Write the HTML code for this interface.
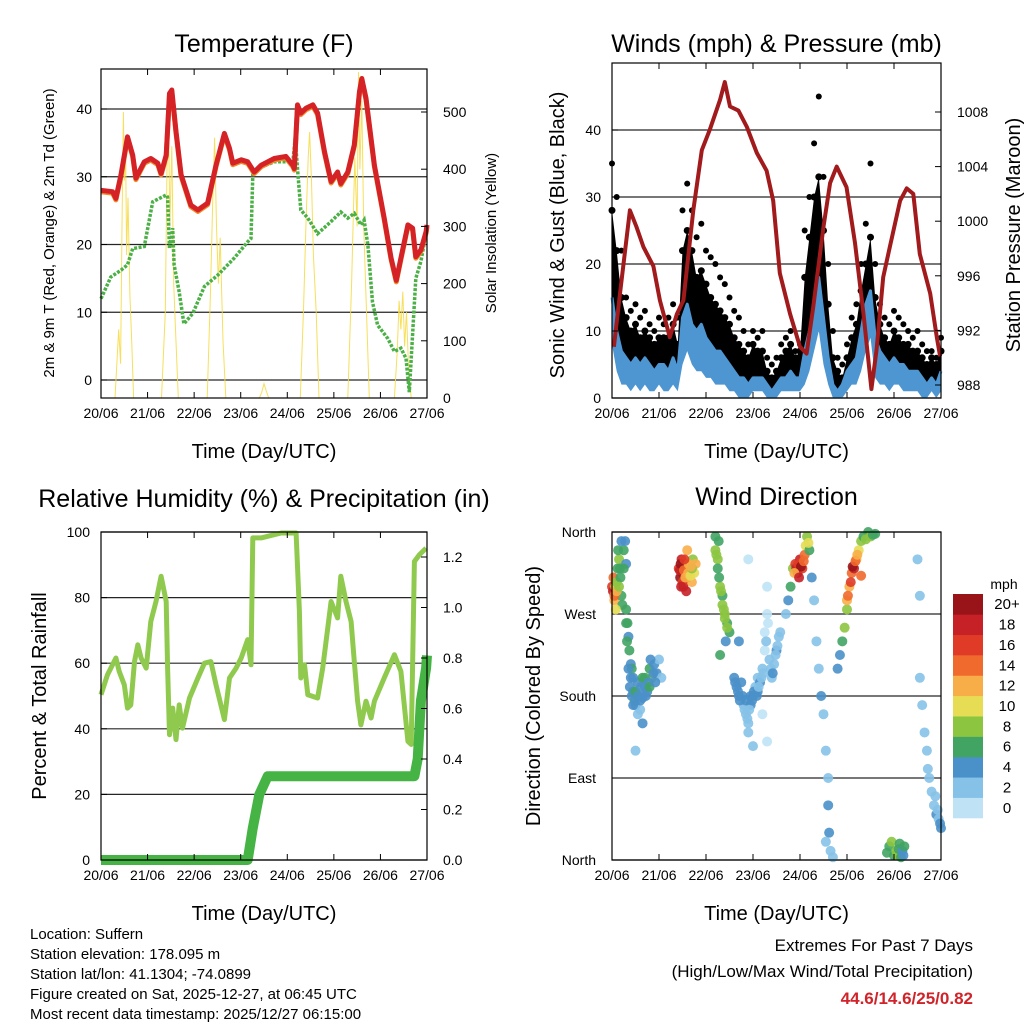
<!DOCTYPE html>
<html><head><meta charset="utf-8"><style>
html,body{margin:0;padding:0;background:#fff}
svg text{font-family:"Liberation Sans",sans-serif;fill:#000}
</style></head><body>
<svg id="c" xmlns="http://www.w3.org/2000/svg" width="1024" height="1024" viewBox="0 0 1024 1024">
<rect width="1024" height="1024" fill="#fff"/>
<g id="root"></g>
</svg>
<script>
// ---------- DATA ----------
const dayLabels=["20/06","21/06","22/06","23/06","24/06","25/06","26/06","27/06"];
const tempTicks=[0,10,20,30,40];
const solarTicks=[0,100,200,300,400,500];
const windTicks=[0,10,20,30,40];
const presTicks=[988,992,996,1000,1004,1008];
const rhTicks=[0,20,40,60,80,100];
const rainTicks=[0.0,0.2,0.4,0.6,0.8,1.0,1.2];
const dirTicks=[0,90,180,270,360];
const dirLabels=["North","East","South","West","North"];
const speedBins=["0","2","4","6","8","10","12","14","16","18","20+"];

const tDays=[0,0.25,0.32,0.43,0.57,0.68,0.75,0.93,1.07,1.22,1.29,1.40,1.47,1.52,1.61,1.72,1.93,2.08,2.29,2.47,2.65,2.76,2.83,3.01,3.15,3.29,3.44,3.72,3.97,4.12,4.15,4.22,4.29,4.40,4.55,4.65,4.80,4.94,5.08,5.15,5.30,5.44,5.55,5.60,5.69,5.87,6.08,6.23,6.34,6.44,6.59,6.69,6.76,6.87,6.98,7.0];
const tempF=[28.0,27.8,26.8,30.3,35.9,33.2,29.8,32.2,32.7,32.0,30.5,33.2,42.3,42.8,36.7,30.3,25.8,25.1,26.1,31.7,36.4,34.2,32.0,32.5,32.2,30.7,31.7,32.7,33.0,31.7,31.2,40.6,39.4,40.1,40.6,39.4,33.7,29.3,30.7,29.0,30.7,34.7,42.6,44.5,41.6,31.7,23.9,18.0,14.7,18.0,22.9,22.4,18.2,19.2,21.9,22.9];
const dDays=[0,0.21,0.43,0.57,0.68,0.93,1.11,1.40,1.43,1.47,1.54,1.57,1.68,1.78,1.97,2.22,2.51,2.86,3.15,3.22,3.26,3.36,3.72,4.12,4.17,4.22,4.29,4.44,4.65,4.94,5.15,5.30,5.44,5.58,5.65,5.73,5.83,5.94,6.16,6.30,6.44,6.55,6.62,6.76,6.87,7.0];
const dewF=[12.0,15.2,16.2,17.0,19.4,19.7,26.3,27.3,27.0,19.4,22.4,17.0,13.0,8.3,9.8,13.8,15.5,18.0,20.4,20.9,30.3,31.2,32.2,32.2,35.7,31.2,25.1,23.9,21.6,23.4,24.8,23.9,24.6,22.9,23.6,19.9,11.5,8.1,6.1,4.2,4.7,3.2,-1.8,15.0,17.5,22.4];
const sDays=[0.30,0.38,0.42,0.45,0.48,0.50,0.53,0.55,0.58,0.62,0.66,0.70,1.30,1.38,1.42,1.45,1.48,1.52,1.56,1.60,1.66,2.28,2.35,2.40,2.44,2.48,2.52,2.56,2.62,2.68,3.40,3.45,3.50,3.55,3.60,4.28,4.35,4.40,4.45,4.48,4.52,4.56,4.62,4.68,5.30,5.38,5.45,5.50,5.53,5.56,5.60,5.64,5.70,5.76,6.30,6.36,6.40,6.44,6.48,6.52,6.56,6.60,6.66];
const solar=[0,120,60,300,500,380,420,250,350,180,100,0,0,150,420,480,300,440,200,120,0,0,180,350,455,300,200,280,100,0,0,10,25,12,0,0,160,300,420,465,380,250,150,0,0,200,420,300,570,400,520,300,150,0,0,80,170,120,186,90,150,60,0];
const wDays=[0,0.1,0.2,0.3,0.4,0.5,0.6,0.7,0.8,0.9,1.0,1.1,1.2,1.3,1.4,1.5,1.6,1.7,1.8,1.9,2.0,2.1,2.2,2.3,2.4,2.5,2.6,2.7,2.8,2.9,3.0,3.1,3.2,3.3,3.4,3.5,3.6,3.7,3.8,3.9,4.0,4.1,4.2,4.3,4.4,4.5,4.6,4.7,4.8,4.9,5.0,5.1,5.2,5.3,5.4,5.5,5.6,5.7,5.8,5.9,6.0,6.1,6.2,6.3,6.4,6.5,6.6,6.7,6.8,6.9,7.0];
const windMph=[15,10,7,6,5,6,5,6,5,4,5,5,4,6,4,12,14,11,10,11,9,8,7,7,6,5,4,3,3,2,3,3,3,2,1,2,3,3,4,3,3,7,10,14,18,12,6,2,1,2,4,5,6,10,14,16,9,7,6,5,6,5,5,4,4,4,3,2,3,2,4];
const windLow=[8,4,2,2,1,2,1,2,1,1,2,1,1,2,1,5,7,5,4,4,3,3,2,2,2,1,1,0,0,0,1,1,1,0,0,0,1,1,1,1,1,2,4,7,10,5,2,0,0,0,1,2,2,4,7,9,3,2,2,1,2,2,1,1,1,1,0,0,1,0,1];
const gustTyp=[28,22,15,12,10,11,9,10,9,8,9,9,9,11,8,22,25,22,18,19,17,15,14,13,12,11,9,8,7,6,8,7,7,4,3,4,6,7,8,6,7,18,24,30,33,25,14,6,4,3,6,9,11,16,20,24,15,11,9,8,10,9,8,8,7,7,6,5,6,5,7];
const gustMph=[35,30,22,15,13,14,12,13,11,10,12,11,12,14,12,28,32,28,24,26,22,21,20,18,17,15,13,12,10,8,10,9,10,6,5,6,8,9,10,7,8,25,30,38,45,33,20,10,6,5,8,12,14,20,26,35,20,14,12,11,13,12,11,10,9,10,8,7,7,6,9];
const pDays=[0.04,0.17,0.38,0.52,0.67,0.88,1.02,1.23,1.38,1.52,1.73,1.91,2.08,2.30,2.40,2.51,2.69,2.87,3.08,3.29,3.43,3.57,3.79,4.00,4.14,4.28,4.50,4.64,4.78,4.99,5.17,5.35,5.52,5.63,5.77,5.91,6.13,6.27,6.41,6.55,6.77,6.91,6.98];
const pressMb=[990.8,994.7,1000.8,999.6,998.1,996.7,994.2,991.5,993.2,994.2,1000.8,1005.2,1006.7,1008.9,1010.2,1008.4,1008.1,1006.9,1005.0,1003.7,1001.5,996.2,993.2,990.8,990.3,993.7,999.6,1002.8,1004.0,1002.5,998.4,993.2,987.7,990.6,995.9,998.1,1001.5,1002.4,1002.0,997.6,994.7,991.5,990.1];
const hDays=[0,0.14,0.32,0.39,0.50,0.57,0.64,0.72,0.79,0.86,0.97,1.07,1.18,1.29,1.40,1.43,1.47,1.54,1.61,1.68,1.75,1.90,2.08,2.22,2.36,2.47,2.65,2.76,2.90,3.01,3.15,3.22,3.26,3.44,3.58,3.87,4.19,4.26,4.29,4.37,4.44,4.65,4.76,4.94,5.08,5.15,5.26,5.37,5.44,5.51,5.58,5.69,5.80,5.87,6.08,6.30,6.44,6.59,6.66,6.73,6.84,6.98];
const rhPct=[50.4,56.5,61.6,57.5,53.4,46.3,47.3,60.5,65.6,61.6,58.5,72.7,78.8,86.5,78.8,58.5,38.2,46.3,36.7,47.3,40.2,49.4,55.5,60.0,60.5,53.4,42.8,55.5,58.5,61.6,67.2,59.5,98.2,98.2,98.7,99.7,99.7,75.8,55.5,59.5,50.4,49.4,58.5,78.8,73.8,86.5,78.8,72.7,60.5,48.4,41.2,48.4,43.3,48.4,55.5,62.6,57.5,36.2,35.2,91.0,93.1,95.1];
const rDays=[0,3.15,3.26,3.40,3.58,6.73,6.80,6.87,6.98,7.0];
const rainIn=[0,0,0.127,0.259,0.332,0.332,0.40,0.63,0.76,0.81];
const dirDays=[0.0,0.02,0.03,0.05,0.07,0.1,0.12,0.15,0.18,0.2,0.22,0.25,0.28,0.3,0.3,0.33,0.35,0.37,0.4,0.4,0.42,0.45,0.48,0.5,0.55,0.6,0.6,0.65,0.7,0.75,0.8,0.85,0.9,0.95,1.0,1.05,0.65,0.5,
0.05,0.08,0.1,0.15,0.17,0.13,0.2,0.25,0.3,0.32,0.35,0.38,0.42,0.45,0.5,0.55,0.6,0.62,0.7,0.72,0.78,0.8,0.82,0.88,0.92,0.55,0.45,0.65,
1.42,1.45,1.48,1.5,1.52,1.55,1.6,1.65,1.7,1.72,1.75,1.78,1.6,1.58,1.44,1.46,1.5,1.53,1.56,1.62,1.63,1.67,1.7,1.47,1.54,1.68,
2.2,2.2,2.25,2.25,2.3,2.35,2.35,2.4,2.45,2.5,2.42,2.3,2.22,2.28,2.32,2.38,2.4,2.45,2.27,
2.6,2.65,2.7,2.8,2.85,2.9,2.95,3.0,3.05,3.1,3.2,3.25,3.25,3.3,3.3,3.35,3.4,3.45,3.5,3.55,2.9,3.0,3.2,3.3,2.9,2.7,3.1,3.15,2.75,
2.62,2.68,2.72,2.78,2.82,2.88,2.92,2.98,3.02,3.08,3.12,3.18,3.22,3.28,3.32,3.38,3.42,3.48,3.52,3.58,2.85,2.95,
3.7,3.75,3.8,3.85,3.9,3.95,4.0,4.05,4.1,4.12,4.15,4.2,4.25,4.3,4.35,4.4,4.45,4.5,4.55,4.6,4.6,4.62,4.65,4.55,4.7,
3.92,3.96,4.02,4.08,3.88,4.18,3.98,
4.8,4.85,4.9,4.95,5.0,5.05,5.1,5.15,5.2,5.25,5.3,5.35,5.45,5.5,5.3,5.0,5.02,5.08,5.12,5.18,5.22,5.4,5.55,5.6,
5.85,5.9,5.95,6.0,6.05,6.08,6.1,6.12,6.15,6.18,6.2,6.22,
6.5,6.55,6.55,6.6,6.65,6.7,6.72,6.75,6.8,6.85,6.9,6.95,7.0,6.88,6.93,6.98];
const dirDeg=[300,295,310,285,300,305,320,330,310,290,280,340,350,325,275,260,245,230,215,200,210,185,175,170,195,180,165,200,190,185,210,200,215,205,220,200,150,120,
290,275,295,300,320,340,350,320,260,240,210,190,180,200,185,180,175,190,200,180,195,190,220,205,195,160,170,178,
320,310,330,315,300,325,310,320,305,330,315,325,340,295,318,325,305,318,310,315,325,312,320,300,330,322,
355,340,330,320,300,290,280,270,260,250,240,225,335,310,295,275,265,255,350,
200,190,180,170,160,150,170,180,190,200,210,230,250,270,300,220,200,215,230,245,140,125,160,130,330,240,185,195,195,
195,185,175,180,165,155,165,175,185,180,190,200,205,240,260,210,205,225,235,250,175,180,
270,285,300,320,325,315,330,320,335,345,355,340,310,285,240,210,180,160,120,90,60,30,10,20,3,
320,325,322,328,315,348,310,
210,225,240,255,275,300,315,320,330,340,350,355,360,355,312,285,290,305,322,328,335,352,357,358,
8,15,20,5,10,5,12,18,3,10,5,15,
330,290,200,170,140,120,100,90,75,60,50,45,35,70,55,40];
const dirSpeed=[16,18,14,12,10,8,6,8,6,6,6,6,4,4,6,6,4,6,4,4,6,4,6,4,4,4,2,6,4,4,6,8,4,4,2,2,4,2,
14,10,12,8,6,6,4,6,6,6,4,4,4,4,6,4,4,4,6,4,4,6,4,4,4,2,4,4,
16,20,18,20,18,16,14,10,12,8,10,12,12,18,18,20,16,14,12,12,12,10,8,18,16,12,
6,8,8,6,8,6,8,8,6,6,4,6,8,6,8,8,8,8,6,
4,4,4,2,2,2,4,4,2,2,2,0,0,0,0,2,2,2,4,2,2,2,0,0,0,4,4,4,4,
4,4,4,4,2,2,2,4,4,4,2,2,2,2,0,2,4,2,2,2,4,4,
2,4,6,8,16,20,18,16,14,10,8,6,4,2,2,2,4,2,2,2,4,4,2,2,2,
18,16,20,14,12,10,18,
4,4,6,8,8,12,14,18,12,10,8,6,6,8,14,12,14,16,20,14,12,8,6,6,
6,6,8,6,8,8,6,6,6,4,4,6,
2,2,2,2,2,2,2,2,2,2,4,2,4,2,2,4];
const speedColors=["#bfe3f5","#86c2e8","#4a90c9","#41a463","#8cc540","#e6dd55","#f8ae48","#ef6a2c","#df3b27","#c52127","#981418"];

// ---------- HELPERS ----------
const NS="http://www.w3.org/2000/svg";
const root=document.getElementById('root');
function mk(tag,attrs,parent){const e=document.createElementNS(NS,tag);for(const k in attrs)e.setAttribute(k,attrs[k]);(parent||root).appendChild(e);return e;}
function txt(s,x,y,size,anchor,parent,extra){const t=mk('text',Object.assign({x:x,y:y,'font-size':size,'text-anchor':anchor||'middle'},extra||{}),parent);t.textContent=s;return t;}
function lin(d0,d1,r0,r1){return v=>r0+(v-d0)*(r1-r0)/(d1-d0);}
function pts(xs,ys,fx,fy){return xs.map((d,i)=>fx(d).toFixed(1)+','+fy(ys[i]).toFixed(1)).join(' ');}
function bandPts(xs,lo,hi,fx,fy){const a=xs.map((d,i)=>fx(d).toFixed(1)+','+fy(hi[i]).toFixed(1));const b=xs.map((d,i)=>fx(d).toFixed(1)+','+fy(lo[i]).toFixed(1)).reverse();return a.concat(b).join(' ');}

function panel(name,L,T,R,B,title,titleY){
  const g=mk('g',{},root);
  
  
  const t=txt(title,(L+R)/2,titleY,25,'middle',g);
  
  
  return g;
}
function frame(g,L,T,R,B,fx,name){
  const f=mk('rect',{x:L,y:T,width:R-L,height:B-T,fill:'none',stroke:'#000','stroke-width':1.2},g);
  
  
  const ax=mk('g',{},g);
  
  
  dayLabels.forEach((lab,i)=>{
    const x=fx(i);
    mk('line',{x1:x,y1:B,x2:x,y2:B-6,stroke:'#000','stroke-width':1},ax);
    mk('line',{x1:x,y1:T,x2:x,y2:T+6,stroke:'#000','stroke-width':1},ax);
    txt(lab,x,B+20,14,'middle',ax);
  });
  const xt=txt('Time (Day/UTC)',(L+R)/2,B+60,20,'middle',ax);
  
  
}
function hgrid(g,L,R,ticks,fy){ticks.forEach(v=>{mk('line',{x1:L,x2:R,y1:fy(v),y2:fy(v),stroke:'#000','stroke-width':1.2,opacity:0.85},g);});}
function yaxis(g,name,ticks,fy,x,anchor,fmt,tickX,dir){
  const a=mk('g',{},g);
  
  
  ticks.forEach(v=>{const y=fy(v);txt(fmt?fmt(v):String(v),x,y+5,14,anchor,a);mk('line',{x1:tickX,x2:tickX+dir*6,y1:y,y2:y,stroke:'#000'},a);});
  return a;
}
function vtitle(g,name,s,x,y,size){const t=txt(s,x,y,size,'middle',g,{transform:`rotate(-90 ${x} ${y})`});}

// ---------- PANEL 1: TEMPERATURE ----------
{
const L=101,R=427,T=69,B=398;
const fx=lin(0,7,L,R), fy=lin(0,40,380,109), fs=lin(0,500,398,112);
const g=panel('temperature-panel',L,T,R,B,'Temperature (F)',52);
hgrid(g,L,R,tempTicks,fy);
const sl=mk('polyline',{points:pts(sDays,solar,fx,fs),fill:'none',stroke:'#f6dc4a','stroke-width':1,opacity:0.9},g);


const dl=mk('polyline',{points:pts(dDays,dewF,fx,fy),fill:'none',stroke:'#4bb045','stroke-width':3.5,'stroke-dasharray':'3 1.5'},g);


const ol=mk('polyline',{points:pts(tDays,tempF,fx,fy),fill:'none',stroke:'#f08a2a','stroke-width':5,transform:'translate(0,1.5)','stroke-linejoin':'round'},g);


const rl=mk('polyline',{points:pts(tDays,tempF,fx,fy),fill:'none',stroke:'#d42226','stroke-width':5,'stroke-linejoin':'round'},g);


frame(g,L,T,R,B,fx,'temperature');
yaxis(g,'temperature-y-axis',tempTicks,fy,92,'end',null,L,1);
yaxis(g,'solar-y-axis',solarTicks,fs,443,'start',null,R,-1);
vtitle(g,'temperature-y-axis-title','2m & 9m T (Red, Orange) & 2m Td (Green)',54,233,15);
vtitle(g,'solar-y-axis-title','Solar Insolation (Yellow)',496,233,15);
}

// ---------- PANEL 2: WINDS ----------
{
const L=612,R=941,T=63,B=398;
const fx=lin(0,7,L,R), fy=lin(0,40,398,130), fp=lin(988,1008,385,112);
const g=panel('winds-panel',L,T,R,B,'Winds (mph) & Pressure (mb)',52);
hgrid(g,L,R,windTicks,fy);
const bp=mk('polygon',{points:bandPts(wDays,windMph,gustTyp,fx,fy),fill:'#000'},g);


wDays.forEach((d,i)=>{
  const c=mk('circle',{cx:fx(d),cy:fy(gustMph[i]),r:3,fill:'#000'},g);
  
  
  const c2=mk('circle',{cx:fx(d),cy:fy(gustTyp[i]),r:3.5,fill:'#000'},g);
  
  
});
const wb=mk('polygon',{points:bandPts(wDays,windLow,windMph,fx,fy),fill:'#4d96d2'},g);


const wl=mk('polyline',{points:pts(wDays,windMph,fx,fy),fill:'none',stroke:'#4d96d2','stroke-width':3,'stroke-linejoin':'round'},g);


const pl=mk('polyline',{points:pts(pDays,pressMb,fx,fp),fill:'none',stroke:'#a11a1c','stroke-width':4,'stroke-linejoin':'round'},g);


frame(g,L,T,R,B,fx,'winds');
yaxis(g,'wind-y-axis',windTicks,fy,601,'end',null,L,1);
yaxis(g,'pressure-y-axis',presTicks,fp,957,'start',null,R,-1);
vtitle(g,'wind-y-axis-title','Sonic Wind & Gust (Blue, Black)',564,235,20);
vtitle(g,'pressure-y-axis-title','Station Pressure (Maroon)',1020,235,20);
}

// ---------- PANEL 3: RH & PRECIP ----------
{
const L=101,R=427,T=532,B=860;
const fx=lin(0,7,L,R), fy=lin(0,100,860,532), fr=lin(0,1.2,860,557);
const g=panel('humidity-precip-panel',L,T,R,B,'Relative Humidity (%) & Precipitation (in)',507);
hgrid(g,L,R,rhTicks,fy);
const hl=mk('polyline',{points:pts(hDays,rhPct,fx,fy),fill:'none',stroke:'#8fca4e','stroke-width':5,'stroke-linejoin':'round'},g);


const rl=mk('polyline',{points:pts(rDays,rainIn,fx,fr),fill:'none',stroke:'#46b445','stroke-width':10,'stroke-linejoin':'round'},g);


frame(g,L,T,R,B,fx,'humidity');
yaxis(g,'humidity-y-axis',rhTicks,fy,90,'end',null,L,1);
yaxis(g,'rainfall-y-axis',rainTicks,fr,443,'start',v=>v.toFixed(1),R,-1);
vtitle(g,'humidity-y-axis-title','Percent & Total Rainfall',46,696,20);
}

// ---------- PANEL 4: WIND DIRECTION ----------
{
const L=612,R=941,T=532,B=860;
const fx=lin(0,7,L,R), fy=lin(0,360,860,532);
const g=panel('wind-direction-panel',L,T,R,B,'Wind Direction',505);
hgrid(g,L,R,dirTicks,fy);
dirDays.forEach((d,i)=>{
  const bin=Math.max(0,Math.min(10,Math.floor(dirSpeed[i]/2)));
  const c=mk('circle',{cx:fx(d),cy:fy(dirDeg[i]),r:5,fill:speedColors[bin],opacity:0.9},g);
  
  
});
frame(g,L,T,R,B,fx,'direction');
const a=mk('g',{},g);


dirTicks.forEach((v,i)=>{txt(dirLabels[i],596,fy(v)+5,14,'end',a);});
vtitle(g,'direction-y-axis-title','Direction (Colored By Speed)',540,696,20);
const lg=mk('g',{},g);


txt('mph',1004,589,14,'middle',lg);
const bh=224/11;
speedBins.forEach((s,i)=>{
  const y=818-(i+1)*bh;
  const r=mk('rect',{x:953,y:y,width:30,height:bh+0.3,fill:speedColors[i]},lg);
  
  
  txt(s,1007,y+bh/2+5,15,'middle',lg);
});
}

// ---------- FOOTER ----------
{
const f=mk('g',{},root);


["Location: Suffern","Station elevation: 178.095 m","Station lat/lon: 41.1304; -74.0899","Figure created on Sat, 2025-12-27, at 06:45 UTC","Most recent data timestamp: 2025/12/27 06:15:00"].forEach((s,i)=>txt(s,30,939+i*20,15,'start',f));
const e=mk('g',{},root);


txt('Extremes For Past 7 Days',973,951,17,'end',e);
txt('(High/Low/Max Wind/Total Precipitation)',973,977,17,'end',e);
txt('44.6/14.6/25/0.82',973,1004,17,'end',e,{style:'fill:#d0232a;font-weight:bold'});
}
</script>
</body></html>
